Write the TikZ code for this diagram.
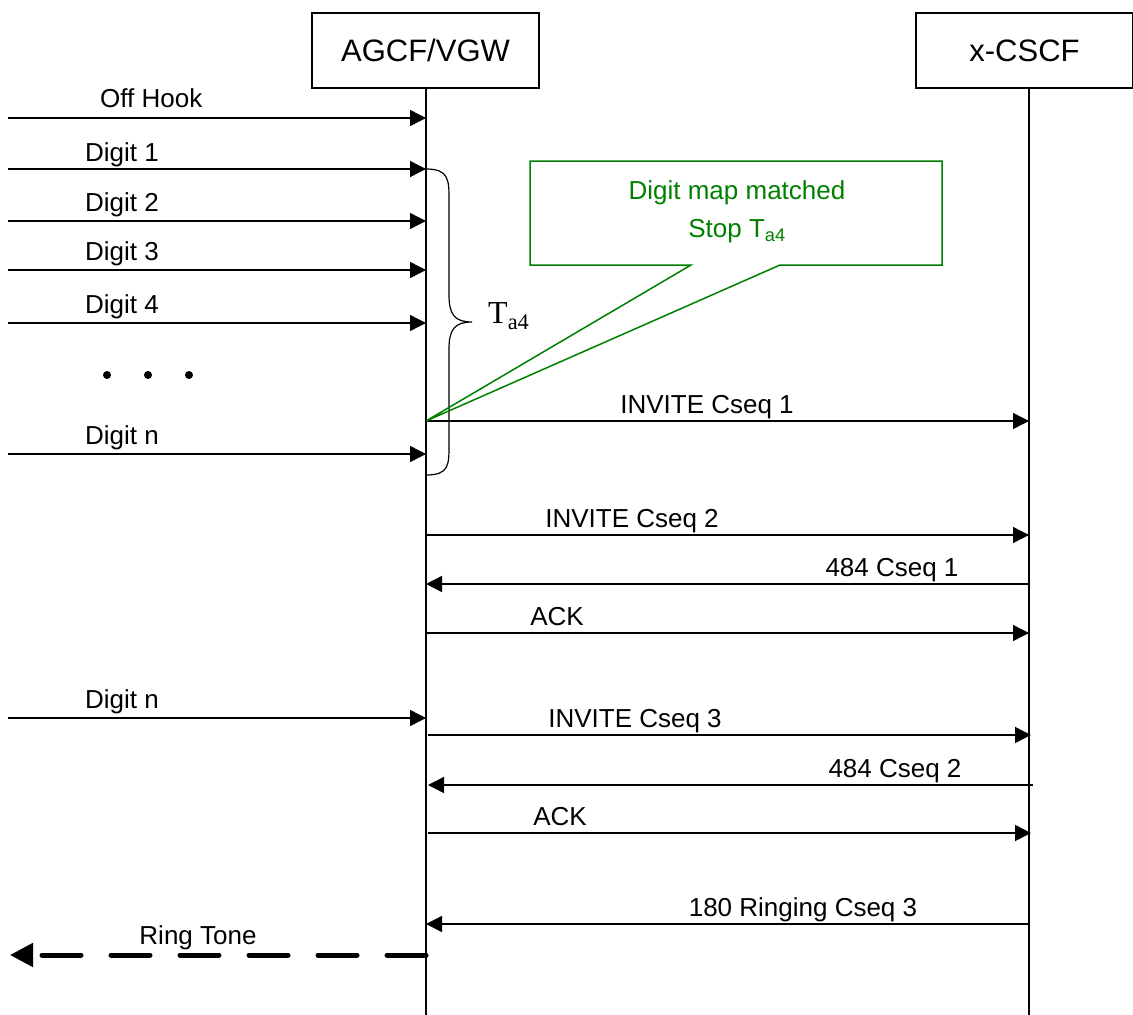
\documentclass[tikz,border=0pt]{standalone}
\usepackage{fontspec}
\setmainfont{Liberation Sans}
\newfontfamily\timesfont{Liberation Serif}
\definecolor{notegreen}{RGB}{0,128,0}
\usetikzlibrary{arrows.meta}

\begin{document}
\begin{tikzpicture}[x=1pt, y=-1pt,
  entity/.style={draw, line width=1.5pt, minimum height=75pt, font=\fontsize{31}{36}\selectfont},
  msg/.style={line width=1.4pt, -{Triangle[length=16pt, width=16pt]}},
  lbl/.style={font=\fontsize{26}{30}\selectfont, inner sep=0pt, anchor=base}]
  \useasboundingbox (0,0) rectangle (1133,1015);

  % Entities and lifelines
  \node[entity, minimum width=227pt] (agcf) at (425.5,50.5) {AGCF/VGW};
  \node[entity, minimum width=217pt] (cscf) at (1024.5,50.5) {x-CSCF};
  \coordinate (agcfend) at (426,1015);
  \coordinate (cscfend) at (1029,1015);
  \draw[line width=1.4pt] (agcf.south -| agcfend) -- (agcfend);
  \draw[line width=1.4pt] (cscf.south -| cscfend) -- (cscfend);

  % Subscriber side
  \foreach \y/\txt/\lx/\by [count=\i] in {118/Off Hook/100/107, 169/Digit 1/85/161,
      221/Digit 2/85/211, 270/Digit 3/85/260, 323/Digit 4/85/313,
      454/Digit n/85/444, 718/Digit n/85/708} {
    \coordinate (user\i) at (8,\y);
    \coordinate (gw\i) at (426,\y);
    \draw[msg] (user\i) -- (gw\i);
    \node[lbl, anchor=base west] (in\i) at (\lx,\by) {\txt};
  }
  \foreach \x [count=\i] in {107,148,189}
    \node[circle, fill, inner sep=0pt, minimum size=8pt] (dot\i) at (\x,375) {};

  % Timer brace
  \draw[line width=1.2pt] (gw2) .. controls (449,169) and (449,180) .. (449,200)
    -- (449,295) .. controls (449,315) and (455,322) .. (472,322)
    .. controls (455,322) and (449,329) .. (449,349)
    -- (449,445) .. controls (449,465) and (449,475) .. (426,475);
  \node[font=\timesfont\fontsize{32}{36}\selectfont, anchor=base west, inner sep=0pt]
    (ta4) at (488,323) {T\textsubscript{a4}};

  % SIP side
  \foreach \y/\xa/\xb/\txt/\cx [count=\i] in {421/426/1029/INVITE Cseq 1/707,
      535/426/1029/INVITE Cseq 2/632, 584/1029/426/484 Cseq 1/892,
      633/426/1029/ACK/557, 735/428/1031/INVITE Cseq 3/635,
      785/1033/428/484 Cseq 2/895, 833/428/1031/ACK/560,
      924/1029/426/180 Ringing Cseq 3/803} {
    \coordinate (from\i) at (\xa,\y);
    \coordinate (to\i) at (\xb,\y);
    \draw[msg] (from\i) -- (to\i);
    \node[lbl] (sip\i) at (\cx,\y-8) {\txt};
  }

  % Callout
  \draw[notegreen, line width=1.5pt] (530,161) -- (942,161) -- (942,265) -- (780,265)
    -- (from1) -- (691,265) -- (530,265) -- cycle;
  \node[notegreen, align=center, font=\fontsize{26}{38}\selectfont] (note) at (737,212)
    {Digit map matched\\Stop T\textsubscript{a4}};

  % Ring tone
  \coordinate (ringstart) at (426,955);
  \coordinate (ringend) at (10,955);
  \draw[line width=5pt, dash pattern=on 39pt off 30pt, line cap=round,
    -{Triangle[length=23pt, width=23pt]}] (ringstart) -- (ringend);
  \node[lbl] (ring) at (198,944) {Ring Tone};
\end{tikzpicture}
\end{document}
